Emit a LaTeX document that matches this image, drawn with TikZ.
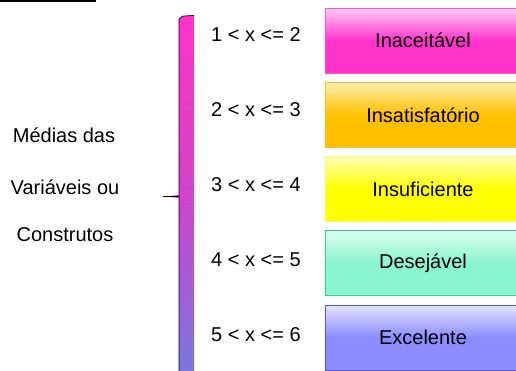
\documentclass[tikz,border=0pt]{standalone}
\usepackage{fontspec}
\setmainfont{Liberation Sans}
\usetikzlibrary{positioning}

\definecolor{pinkTop}{HTML}{FFCCF2}
\definecolor{pinkBot}{HTML}{FF33CC}
\definecolor{pinkLine}{HTML}{FF55CC}
\definecolor{orangeTop}{HTML}{FFF0B0}
\definecolor{orangeBot}{HTML}{FFC000}
\definecolor{orangeLine}{HTML}{F8C030}
\definecolor{yellowTop}{HTML}{FFFFB8}
\definecolor{yellowBot}{HTML}{FFFF00}
\definecolor{yellowLine}{HTML}{FFF080}
\definecolor{greenTop}{HTML}{DDFFF0}
\definecolor{greenBot}{HTML}{88F4D0}
\definecolor{greenLine}{HTML}{33CC99}
\definecolor{blueTop}{HTML}{E2E2FF}
\definecolor{blueBot}{HTML}{8C8CFF}
\definecolor{blueLine}{HTML}{5555CC}
\definecolor{braceTop}{HTML}{FF33CC}
\definecolor{braceMid}{HTML}{D044CC}
\definecolor{braceBot}{HTML}{7777DD}

\begin{document}
\begin{tikzpicture}[x=1pt,y=-1pt]
	\tikzset{every node/.style={font=\fontsize{20}{24}\selectfont}}
	\tikzset{ratebox/.style={draw=#1Line,line width=0.8pt,top color=#1Top,bottom color=#1Bot,middle color=#1Bot,minimum width=196pt,minimum height=65pt,inner sep=0pt}}
	\tikzset{bounds/.style={inner sep=0pt}}
	\useasboundingbox (0,0) rectangle (516,370);

	% top rule
	\fill[black] (0,0) rectangle (96,2);

	% brace
	\shade[top color=braceTop,bottom color=braceBot,middle color=braceMid]
		(194,15.5) -- (194,375) -- (179,375) -- (179,198) -- (165,196.5)
		-- (179,195) -- (179,19) .. controls (181,16) .. (194,15.5);
	\draw[line width=0.7pt] (194,15.5) .. controls (181,16) .. (179,19) -- (179,375);
	\draw[line width=0.7pt] (163,196.5) -- (179,196.5);

	% left label
	\node (med) at (64,135) {Médias das};
	\node (var) at (65,187) {Variáveis ou};
	\node (con) at (65,235) {Construtos};

	% ranges
	\node[bounds] (r1) at (256,35) {1 < x <= 2};
	\node[bounds] (r2) at (256,110) {2 < x <= 3};
	\node[bounds] (r3) at (256,185) {3 < x <= 4};
	\node[bounds] (r4) at (256,260) {4 < x <= 5};
	\node[bounds] (r5) at (256,335) {5 < x <= 6};

	% levels
	\node[ratebox=pink] (inac) at (423,40.5) {Inaceitável};
	\node[ratebox=orange] (insa) at (423,114.75) {Insatisfatório};
	\node[ratebox=yellow] (insu) at (423,189) {Insuficiente};
	\node[ratebox=green] (dese) at (423,263.25) {Desejável};
	\node[ratebox=blue] (exce) at (423,337.5) {Excelente};
\end{tikzpicture}
\end{document}
